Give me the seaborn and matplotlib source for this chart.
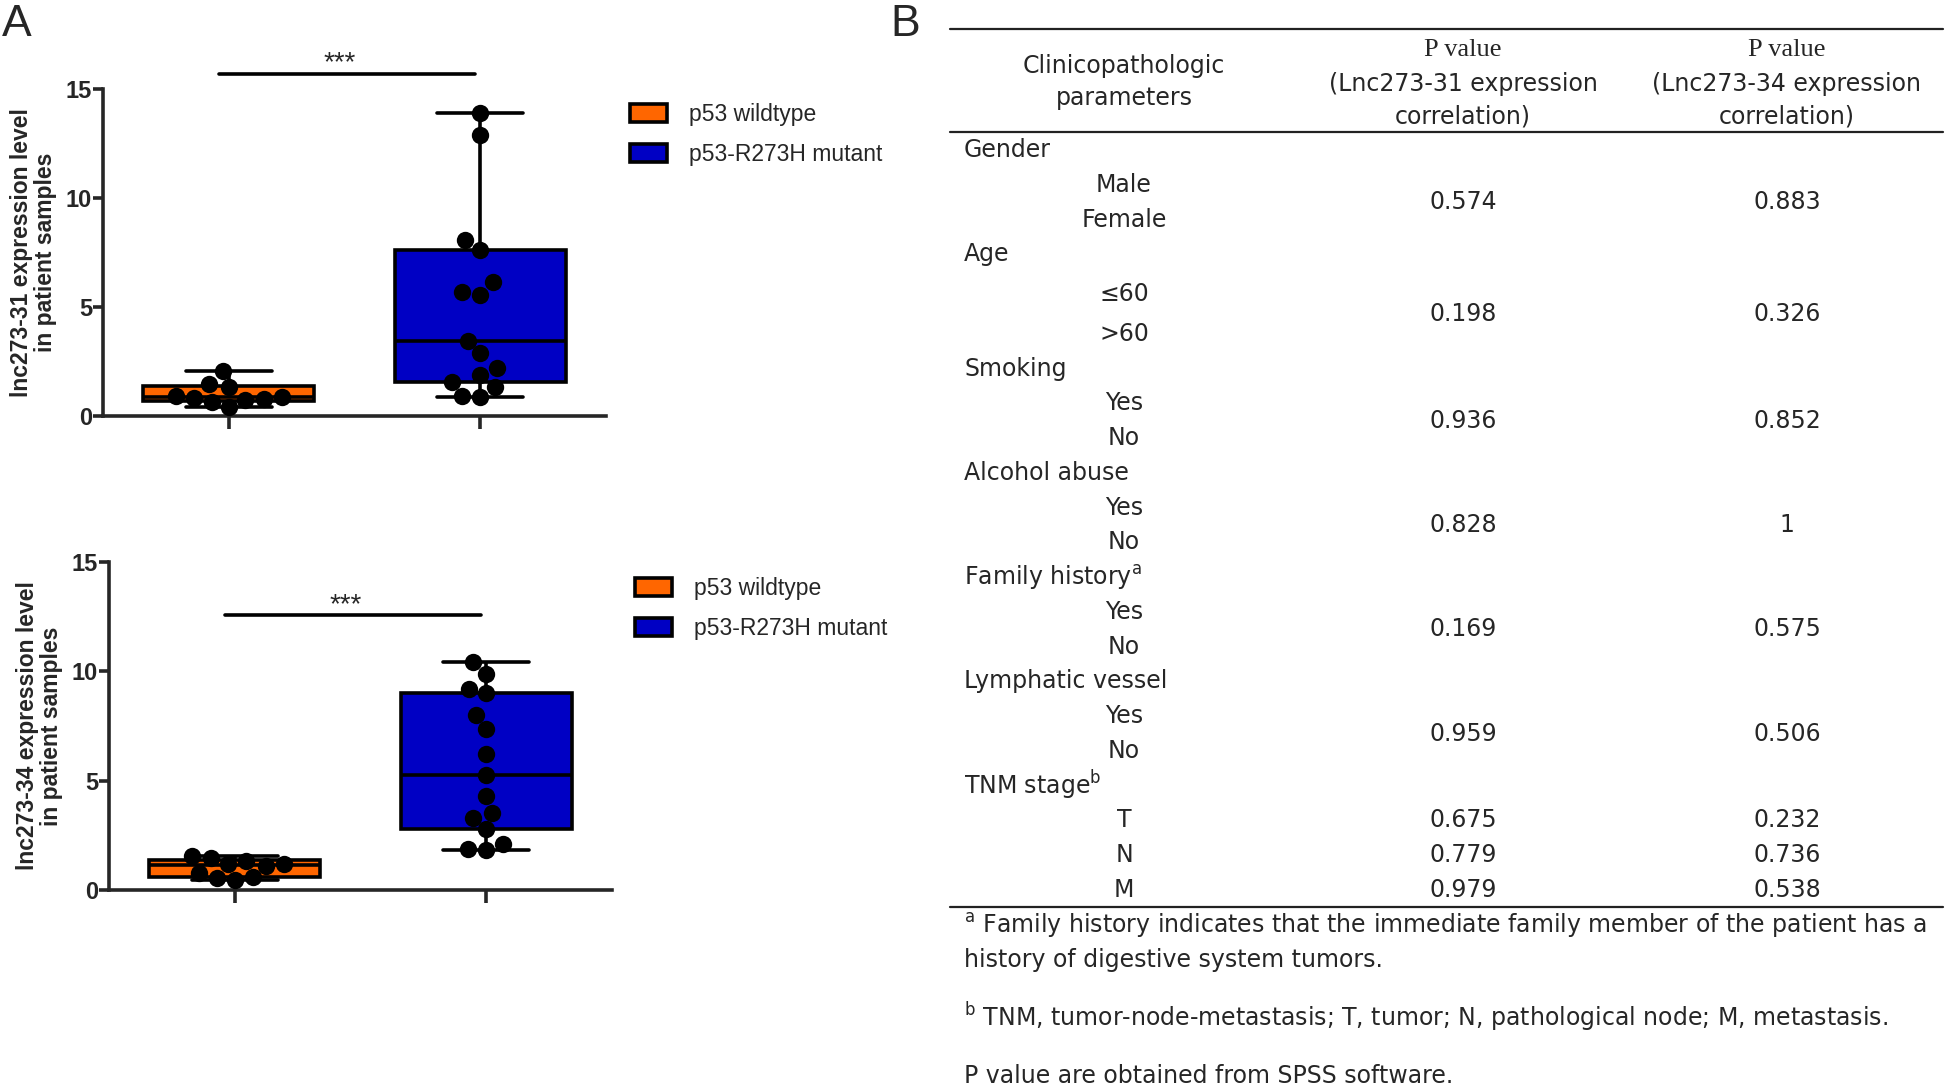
import numpy as np
import pandas as pd
import seaborn as sns
import matplotlib as mpl
import matplotlib.pyplot as plt
from matplotlib.lines import Line2D

# values
groups = ["p53 wildtype", "p53-R273H mutant"]
group_colors = ["#FF6600", "#0000C4"]

lnc31_wildtype = [0.40, 0.66, 0.72, 0.80, 0.84, 0.89, 0.90, 1.33, 1.45, 2.08]
lnc31_mutant = [0.89, 0.92, 1.35, 1.57, 1.88, 2.19, 2.87, 3.46,
                5.55, 5.67, 6.13, 7.61, 8.07, 12.89, 13.91]
lnc34_wildtype = [0.46, 0.55, 0.58, 0.76, 1.12, 1.17, 1.19, 1.33, 1.47, 1.57]
lnc34_mutant = [1.83, 1.88, 2.11, 2.78, 3.31, 3.54, 4.32, 5.26,
                6.23, 7.36, 8.01, 9.00, 9.20, 9.87, 10.42]
significance = ["***", "***"]

parameters = ["Gender", "Age", "Smoking", "Alcohol abuse",
              r"Family history$^\mathregular{a}$", "Lymphatic vessel",
              r"TNM stage$^\mathregular{b}$"]
levels = [["Male", "Female"], ["≤60", ">60"], ["Yes", "No"], ["Yes", "No"],
          ["Yes", "No"], ["Yes", "No"], ["T", "N", "M"]]
p_lnc31 = [["0.574"], ["0.198"], ["0.936"], ["0.828"], ["0.169"], ["0.959"],
           ["0.675", "0.779", "0.979"]]
p_lnc34 = [["0.883"], ["0.326"], ["0.852"], ["1"], ["0.575"], ["0.506"],
           ["0.232", "0.736", "0.538"]]
footnotes = [
    r"$^\mathregular{a}$ Family history indicates that the immediate family member of the patient has a",
    "history of digestive system tumors.",
    r"$^\mathregular{b}$ TNM, tumor-node-metastasis; T, tumor; N, pathological node; M, metastasis.",
    "P value are obtained from SPSS software.",
]


# GraphPad-style quartiles ((n+1)p), seaborn goes through mpl's boxplot_stats
_mpl_boxplot_stats = mpl.cbook.boxplot_stats


def prism_boxplot_stats(X, *args, **kwargs):
    stats = _mpl_boxplot_stats(X, *args, **kwargs)
    for st, x in zip(stats, X):
        st["q1"], st["q3"] = np.percentile(np.asarray(x), [25, 75], method="weibull")
    return stats


mpl.cbook.boxplot_stats = prism_boxplot_stats

sns.set_style("ticks")
plt.rcParams["font.family"] = ["Liberation Sans", "DejaVu Sans"]

W, H = 1946, 1086
fig = plt.figure(figsize=(W / 100, H / 100), dpi=100)

# full-figure axes in pixel units for the table and panel letters
tab = fig.add_axes([0, 0, 1, 1])
tab.set_xlim(0, W)
tab.set_ylim(H, 0)
tab.axis("off")
tab.patch.set_alpha(0)

LW = 2.6


def expression_panel(ax, wildtype, mutant, ylabel, sig, sig_y, legend_anchor):
    df = pd.DataFrame({
        "group": [groups[0]] * len(wildtype) + [groups[1]] * len(mutant),
        "value": wildtype + mutant,
    })
    sns.boxplot(data=df, x="group", y="value", hue="group", order=groups,
                hue_order=groups, palette=group_colors, saturation=1,
                whis=(0, 100), width=0.68, linecolor="black", linewidth=LW,
                showfliers=False, legend=True, ax=ax)
    sns.swarmplot(data=df, x="group", y="value", order=groups, color="black",
                  size=12.5, linewidth=0, zorder=4, warn_thresh=1, ax=ax)

    ax.set_ylim(0, 15)
    ax.set_xlim(-0.5, 1.5)
    ax.set_yticks([0, 5, 10, 15])
    ax.set_xticks([0, 1])
    ax.set_xticklabels([])
    ax.set_xlabel("")
    ax.set_ylabel(ylabel, fontsize=16.5, fontweight="bold", linespacing=1.1,
                  labelpad=6)
    for lab in ax.get_yticklabels():
        lab.set_fontweight("bold")
    ax.tick_params(axis="y", labelsize=17, width=LW, length=7, pad=1)
    ax.tick_params(axis="x", width=LW, length=9)
    sns.despine(ax=ax)
    for side in ["left", "bottom"]:
        ax.spines[side].set_linewidth(LW)

    ax.plot([-0.04, 0.98], [sig_y, sig_y], color="black", lw=LW, clip_on=False)
    ax.text(0.44, sig_y - 0.12, sig, ha="center", va="bottom", fontsize=20)

    sns.move_legend(ax, "upper left", bbox_to_anchor=legend_anchor,
                    title=None, frameon=False, fontsize=16.5, borderpad=0,
                    borderaxespad=0, handlelength=1.6, handleheight=0.8,
                    handletextpad=0.95, labelspacing=0.75)


ax1 = fig.add_axes([103 / W, 1 - 416 / H, 503 / W, 327 / H])
expression_panel(ax1, lnc31_wildtype, lnc31_mutant,
                 "lnc273-31 expression level\nin patient samples",
                 significance[0], 15.7, (1.048, 0.958))

ax2 = fig.add_axes([109 / W, 1 - 890 / H, 503 / W, 328 / H])
expression_panel(ax2, lnc34_wildtype, lnc34_mutant,
                 "lnc273-34 expression level\nin patient samples",
                 significance[1], 12.56, (1.046, 0.955))

tab.text(2, 4, "A", fontsize=32, va="top", ha="left")
tab.text(890, 4, "B", fontsize=32, va="top", ha="left")

# ---- table (panel B) ----
table_font = "DejaVu Sans"
fs = 17
x_left, x_sub, x_col1, x_col2 = 964, 1124, 1463, 1787
for y in [29, 132, 907]:
    tab.add_line(Line2D([950, 1943], [y, y], color="#222222", lw=1.6))

tab.text(x_sub, 82, "Clinicopathologic\nparameters", ha="center",
         va="center", fontsize=fs, family=table_font, linespacing=1.45)
for xc, name in [(x_col1, "Lnc273-31"), (x_col2, "Lnc273-34")]:
    tab.text(xc, 50, "P value", ha="center", va="center", fontsize=fs + 2,
             family="Liberation Serif")
    tab.text(xc, 100, f"({name} expression\ncorrelation)", ha="center",
             va="center", fontsize=fs, family=table_font, linespacing=1.45)

step = 34.76
y = 150
for param, lev, p31, p34 in zip(parameters, levels, p_lnc31, p_lnc34):
    tab.text(x_left, y, param, ha="left", va="center", fontsize=fs,
             family=table_font)
    y += step
    ys = []
    for name in lev:
        if name in ("≤60", ">60"):
            y += 5
        ys.append(y)
        tab.text(x_sub, y, name, ha="center", va="center", fontsize=fs,
                 family=table_font)
        y += step
    value_y = [np.mean(ys)] if len(p31) == 1 else ys
    for vy, a, b in zip(value_y, p31, p34):
        tab.text(x_col1, vy, a, ha="center", va="center", fontsize=fs,
                 family=table_font)
        tab.text(x_col2, vy, b, ha="center", va="center", fontsize=fs,
                 family=table_font)

for fy, note in zip([926, 960, 1017, 1076], footnotes):
    tab.text(x_left, fy, note, ha="left", va="center", fontsize=fs,
             family=table_font)

fig.savefig("out.png", dpi=100)
